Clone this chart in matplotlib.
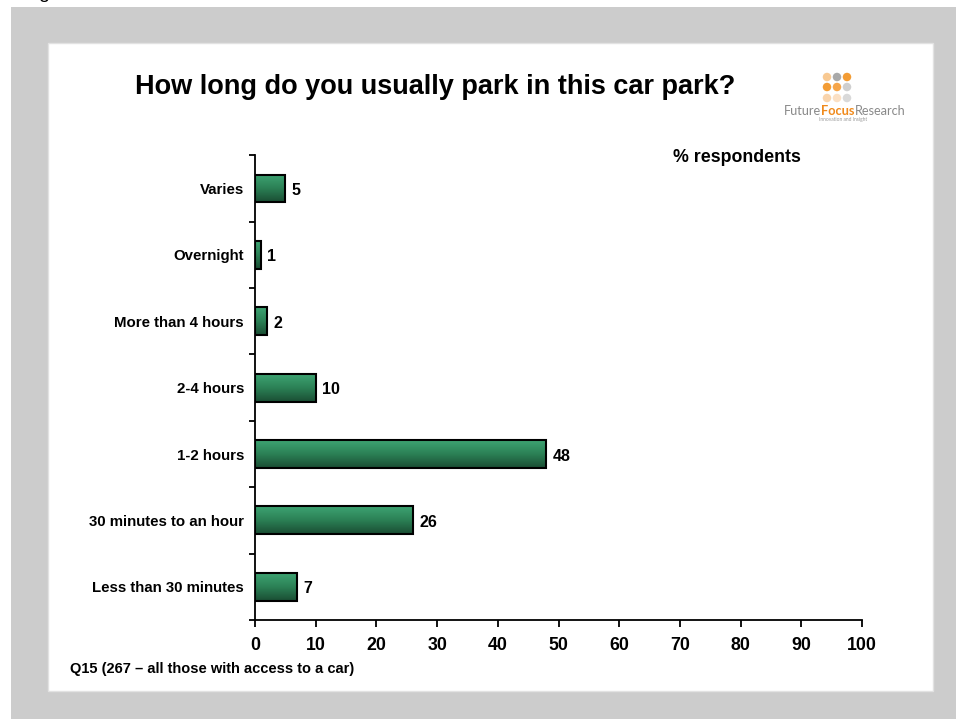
import numpy as np
import matplotlib
matplotlib.use("Agg")
import matplotlib.pyplot as plt
from matplotlib.colors import LinearSegmentedColormap
from matplotlib.patches import Rectangle, Ellipse

plt.rcParams['font.family'] = ['Liberation Sans', 'DejaVu Sans']

# Survey data
categories = ["Less than 30 minutes", "30 minutes to an hour", "1-2 hours",
              "2-4 hours", "More than 4 hours", "Overnight", "Varies"]
values = [7, 26, 48, 10, 2, 1, 5]
x_ticks = list(range(0, 101, 10))

title = "How long do you usually park in this car park?"
unit_label = "% respondents"
base_note = "Q15 (267 \u2013 all those with access to a car)"

W, H = 956, 719


def fx(px):
    return px / W


def fy(py):
    return 1 - py / H


fig = plt.figure(figsize=(W / 100, H / 100), dpi=100)
fig.patch.set_facecolor("white")

# Slide background: grey frame with a white panel
fig.add_artist(Rectangle((fx(11), 0), 1 - fx(11), fy(7), transform=fig.transFigure,
                         facecolor="#cccccc", edgecolor="none", zorder=-3))
fig.add_artist(Rectangle((fx(48), fy(691)), fx(933) - fx(48), fy(43) - fy(691),
                         transform=fig.transFigure, facecolor="white",
                         edgecolor="#e2e2e2", linewidth=1, zorder=-2))
# descender of a line of text cut off at the top edge
fig.text(fx(38), fy(-1.5), "g", fontsize=14, ha="left", va="baseline", color="black")

ax = fig.add_axes([fx(255), fy(620), fx(862) - fx(255), fy(155.3) - fy(620)])
ax.set_facecolor("none")

pos = np.arange(len(categories))
bars = ax.barh(pos, values, height=0.42, facecolor="none", edgecolor="black",
               linewidth=1.5, zorder=3)

cmap = LinearSegmentedColormap.from_list("bar_green", ["#3ea473", "#2b8055", "#1a4d33"])
grad = np.linspace(0, 1, 256).reshape(-1, 1)
for b in bars:
    x0, y0 = b.get_x(), b.get_y()
    im = ax.imshow(grad, extent=[x0, x0 + b.get_width(), y0, y0 + b.get_height()],
                   origin="upper", aspect="auto", cmap=cmap, zorder=2,
                   interpolation="bicubic")
    im.set_clip_path(b)

for p, v in zip(pos, values):
    ax.annotate(str(v), xy=(v, p), xytext=(4.5, -1.5), textcoords="offset points",
                ha="left", va="center", fontsize=11.5, fontweight="bold")

ax.set_xlim(0, 100)
ax.set_ylim(-0.5, len(categories) - 0.5)

for s in ("top", "right"):
    ax.spines[s].set_visible(False)
for s in ("left", "bottom"):
    ax.spines[s].set_linewidth(1.3)

ax.set_xticks(x_ticks)
ax.set_xticklabels([str(t) for t in x_ticks], fontsize=12.8, fontweight="bold")
ax.tick_params(axis="x", direction="out", length=5, width=1.3, pad=7)

ax.set_yticks(np.arange(-0.5, len(categories), 1))
ax.set_yticklabels([])
ax.tick_params(axis="y", which="major", direction="out", length=4, width=1.3)
ax.set_yticks(pos, minor=True)
ax.set_yticklabels(categories, minor=True, fontsize=10.8, fontweight="bold")
ax.tick_params(axis="y", which="minor", length=0, pad=8)

fig.text(fx(435), fy(87), title, ha="center", va="center", fontsize=19.5, fontweight="bold")
fig.text(fx(737), fy(158), unit_label, ha="center", va="center", fontsize=12.8,
         fontweight="bold")
fig.text(fx(70), fy(669), base_note, ha="left", va="center", fontsize=10.5,
         fontweight="bold")

# Company logo: dot grid and wordmark
dot_cols = [["#f8c992", "#a9a9a9", "#f39c34"],
            ["#f39c34", "#f5a54a", "#cfcfcf"],
            ["#f9d4ac", "#fbe0c4", "#d9d9d9"]]
for r, yy in enumerate([77, 87, 98]):
    for c, xx in enumerate([827, 837, 847]):
        fig.add_artist(Ellipse((fx(xx), fy(yy)), 8.5 / W, 8.5 / H,
                               transform=fig.transFigure, facecolor=dot_cols[r][c],
                               edgecolor="none", zorder=2))

t1 = fig.text(fx(784), fy(115), "Future", fontsize=9.2, color="#8a8a8a",
              family=["Lato", "DejaVu Sans"], ha="left", va="baseline")
t2 = fig.text(0, 0, "Focus", fontsize=9.2, color="#f08a1c", fontweight="bold",
              family=["Lato", "DejaVu Sans"], ha="left", va="baseline")
t3 = fig.text(0, 0, "Research", fontsize=9.2, color="#8a8a8a",
              family=["Lato", "DejaVu Sans"], ha="left", va="baseline")
renderer = fig.canvas.get_renderer()
bb1 = t1.get_window_extent(renderer)
t2.set_position((bb1.x1 / W, fy(115)))
bb2 = t2.get_window_extent(renderer)
t3.set_position((bb2.x1 / W, fy(115)))
fig.text(fx(867), fy(121), "Innovation and Insight", fontsize=3.5, color="#9a9a9a",
         family=["Lato", "DejaVu Sans"], ha="right", va="baseline")

fig.savefig("out.png", dpi=100, facecolor=fig.get_facecolor())
